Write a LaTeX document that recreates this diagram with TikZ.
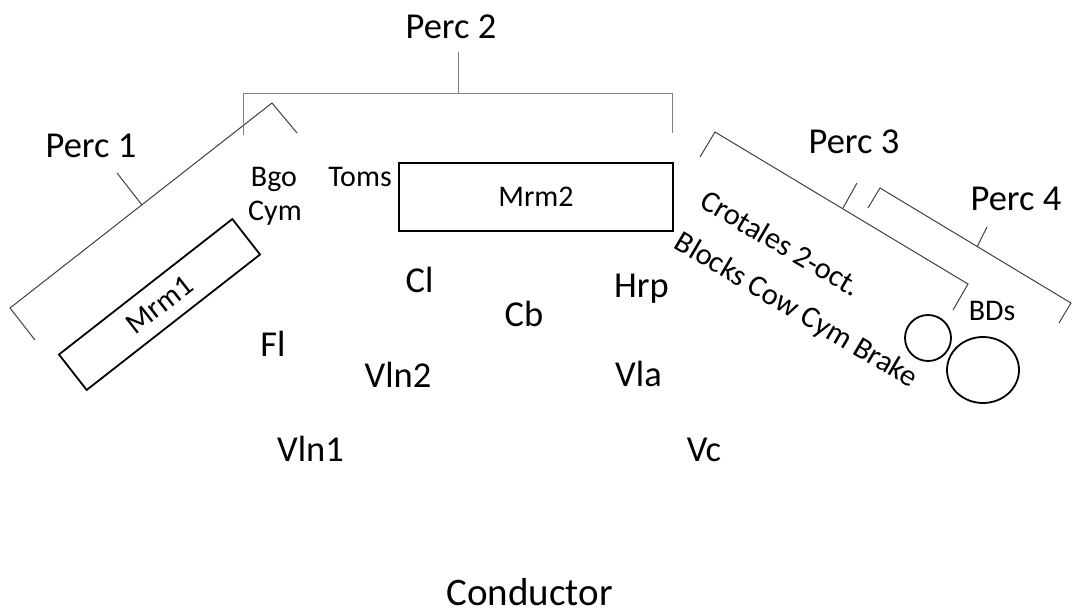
\documentclass[tikz,border=0pt]{standalone}
\usepackage{fontspec}
\setmainfont{Carlito}
\usetikzlibrary{shapes.geometric}
\begin{document}
\begin{tikzpicture}[x=1pt,y=-1pt,
  big/.style={font=\fontsize{36.5}{40}\selectfont, inner sep=0pt, anchor=base},
  small/.style={font=\fontsize{30}{33}\selectfont, inner sep=0pt, anchor=base},
  rot/.style={font=\fontsize{30.5}{33}\selectfont, inner sep=0pt, rotate=-30.5},
  brk/.style={line width=1pt, draw=black!75},
  brkgray/.style={line width=1pt, draw=black!50},
  box/.style={draw, line width=1.8pt, inner sep=0pt, font=\fontsize{30}{33}\selectfont}]
\useasboundingbox (0,0) rectangle (1072,614);
% Perc labels
\node[big] (p1) at (91,157) {Perc 1};
\node[big] (p2) at (451,38) {Perc 2};
\node[big] (p3) at (854,153) {Perc 3};
\node[big] (p4) at (1016,210) {Perc 4};
% Perc 1 bracket
\coordinate (a1) at (35,340); \coordinate (a2) at (10,308);
\coordinate (a3) at (272,103); \coordinate (a4) at (297,133);
\coordinate (a5) at (117,173); \coordinate (a6) at (142,205);
\draw[brk] (a1) -- (a2) -- (a3) -- (a4);
\draw[brk] (a5) -- (a6);
% Perc 2 bracket
\coordinate (b1) at (243,135); \coordinate (b2) at (243,93);
\coordinate (b3) at (672,93); \coordinate (b4) at (672,133);
\coordinate (b5) at (458,52); \coordinate (b6) at (458,93);
\draw[brkgray] (b1) -- (b2) -- (b3) -- (b4);
\draw[brkgray] (b5) -- (b6);
% Perc 3 bracket
\coordinate (c1) at (700,157); \coordinate (c2) at (715,132);
\coordinate (c3) at (968,284); \coordinate (c4) at (953,310);
\coordinate (c5) at (857,183); \coordinate (c6) at (843,208);
\draw[brk] (c1) -- (c2) -- (c3) -- (c4);
\draw[brk] (c5) -- (c6);
% Perc 4 bracket
\coordinate (d1) at (868,208); \coordinate (d2) at (880,188);
\coordinate (d3) at (1071,303); \coordinate (d4) at (1059,323);
\coordinate (d5) at (987,227); \coordinate (d6) at (977,247);
\draw[brk] (d1) -- (d2) -- (d3) -- (d4);
\draw[brk] (d5) -- (d6);
% Marimbas
\node[box, rotate=38, minimum width=220pt, minimum height=45pt] (mrm1) at (159.5,304.5) {Mrm1};
\node[box, minimum width=274pt, minimum height=68pt] (mrm2) at (536,197) {Mrm2};
% small labels
\node[small] (bgo) at (274,186.7) {Bgo};
\node[small] (cym) at (275,220) {Cym};
\node[small] (toms) at (360,186.7) {Toms};
\node[small] (bds) at (992,320) {BDs};
\node[rot] (crot) at (781,243) {Crotales 2-oct.};
\node[rot] (blocks) at (796,311) {Blocks Cow Cym Brake};
% Bass drums
\node[draw, circle, line width=1.8pt, minimum size=46pt, inner sep=0pt] (bd1) at (928,338) {};
\node[draw, ellipse, line width=1.8pt, minimum width=72pt, minimum height=66pt, inner sep=0pt] (bd2) at (983,370) {};
% instruments
\node[big] (cl) at (419.5,292.7) {Cl};
\node[big] (fl) at (273,356) {Fl};
\node[big] (vln2) at (398,387) {Vln2};
\node[big] (vln1) at (310.5,461.7) {Vln1};
\node[big] (hrp) at (641.5,297.7) {Hrp};
\node[big] (cb) at (524,326) {Cb};
\node[big] (vla) at (638.5,386.7) {Vla};
\node[big] (vc) at (704,461.7) {Vc};
\node[big, font=\fontsize{39}{44}\selectfont] (cond) at (529.7,605) {Conductor};
\end{tikzpicture}
\end{document}
